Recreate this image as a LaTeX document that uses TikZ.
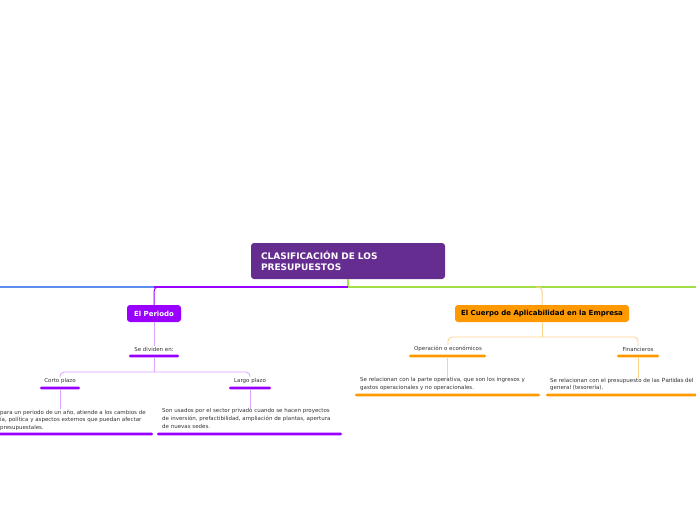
\documentclass[tikz,border=0pt]{standalone}
\usepackage{fontspec}
\setmainfont{DejaVu Sans}
\newfontfamily\altfont{Liberation Sans}
\definecolor{rootc}{HTML}{662D91}
\definecolor{pvio}{HTML}{9900FF}
\definecolor{lvio}{HTML}{D9A3FF}
\definecolor{orng}{HTML}{FF9900}
\definecolor{lorng}{HTML}{FFD18A}
\definecolor{grn}{HTML}{A3E048}
\definecolor{blu}{HTML}{5B8DEF}
\definecolor{txt}{HTML}{333333}
\tikzset{
  rootbox/.style={fill=rootc, rounded corners=3pt, text=white, font=\fontsize{9}{11}\selectfont\bfseries, text width=174pt, inner xsep=10pt, align=left, minimum height=36pt},
  mainbox/.style={rounded corners=3pt, font=\fontsize{7}{8}\selectfont\bfseries, minimum height=17pt, inner sep=0pt},
  lbl/.style={font=\fontsize{5.5}{6.5}\selectfont, text=txt, inner sep=1pt},
  para/.style={font=\fontsize{5.5}{7.6}\selectfont, text=txt, align=left, inner sep=0pt, anchor=north west},
  bar/.style={minimum width=#1, minimum height=2.6pt, inner sep=0pt, rounded corners=1.2pt},
  conn/.style={line width=0.8pt, rounded corners=4pt},
}
\begin{document}
\begin{tikzpicture}[x=1pt,y=-1pt]
\useasboundingbox (0,0) rectangle (696,520);
% root
\node[rootbox] (root) at (348,261) {CLASIFICACIÓN DE LOS\\PRESUPUESTOS};
\coordinate (j0) at (348,287);
\coordinate (jP) at (154,287);
\coordinate (jC) at (542,287);
\coordinate (lEnd) at (0,287);
\coordinate (rEnd) at (696,287);
% main branches
\node[mainbox, fill=pvio, text=white, minimum width=54pt] (per) at (154,313.5) {El Periodo};
\node[mainbox, fill=orng, text=black, minimum width=174pt] (cue) at (542,313.5) {El Cuerpo de Aplicabilidad en la Empresa};
\draw[grn, line width=1.2pt] (root.south) -- (j0) -- (rEnd);
\draw[pvio, line width=1.2pt] (j0) -- (jP);
\draw[blu, line width=1.2pt] (jP) -- (lEnd);
\draw[pvio, line width=1pt, rounded corners=4pt] ([xshift=4pt]jP) -- (jP) -- (per.north);
\draw[lorng, line width=1pt, rounded corners=4pt] ([xshift=-6pt]jC) -- (jC) -- (cue.north);
% El Periodo subtree
\node[lbl] (sed) at (154,349) {Se dividen en:};
\node[bar=50pt, fill=pvio] (bsed) at (154,356) {};
\draw[lvio, conn] (per.south) -- (sed.north);
\coordinate (s1) at (154,372);
\node[lbl] (corto) at (60,381) {Corto plazo};
\node[lbl] (largo) at (250,381) {Largo plazo};
\node[bar=40pt, fill=pvio] (bcor) at (60,388) {};
\node[bar=42pt, fill=pvio] (blar) at (250,388) {};
\draw[lvio, conn] (bsed.south) -- (s1);
\draw[lvio, conn] (corto.north) |- (s1) -| (largo.north);
\node[para] (tcor) at (0,408.5) {\strut para un periodo de un año, atiende a los cambios de\\ía, política y aspectos externos que puedan afectar\\presupuestales.};
\node[para] (tlar) at (162,408.5) {Son usados por el sector privado cuando se hacen proyectos\\de inversión, prefactibilidad, ampliación de plantas, apertura\\de nuevas sedes.};
\draw[lvio, conn] (bcor.south) -- (bcor.south |- tcor.north);
\draw[lvio, conn] (blar.south) -- (blar.south |- tlar.north);
\node[bar=157pt, fill=pvio] (btcor) at (74.5,434) {};
\node[bar=185pt, fill=pvio] (btlar) at (249.5,434) {};
% El Cuerpo subtree
\coordinate (s2) at (542,337);
\node[lbl] (op) at (448,349) {Operación o económicos};
\node[lbl] (fin) at (638,349) {Financieros};
\node[bar=77pt, fill=orng] (bop) at (447.5,356) {};
\node[bar=42pt, fill=orng] (bfin) at (638,356) {};
\draw[lorng, conn] (cue.south) -- (s2);
\draw[lorng, conn] (op.north) |- (s2) -| (fin.north);
\node[para] (top) at (360,377.5) {Se relacionan con la parte operativa, que son los ingresos y\\gastos operacionales y no operacionales.};
\node[para] (tfin) at (550,377.5) {Se relacionan con el presupuesto de las {\altfont\fontsize{6}{7.6}\selectfont Partidas del}\\general (tesorería).};
\draw[lorng, conn] (bop.south) -- (bop.south |- top.north);
\draw[lorng, conn] (bfin.south) -- (bfin.south |- tfin.north);
\node[bar=185pt, fill=orng] (btop) at (447.5,395) {};
\node[bar=154pt, fill=orng] (btfin) at (623,395) {};
\end{tikzpicture}
\end{document}
